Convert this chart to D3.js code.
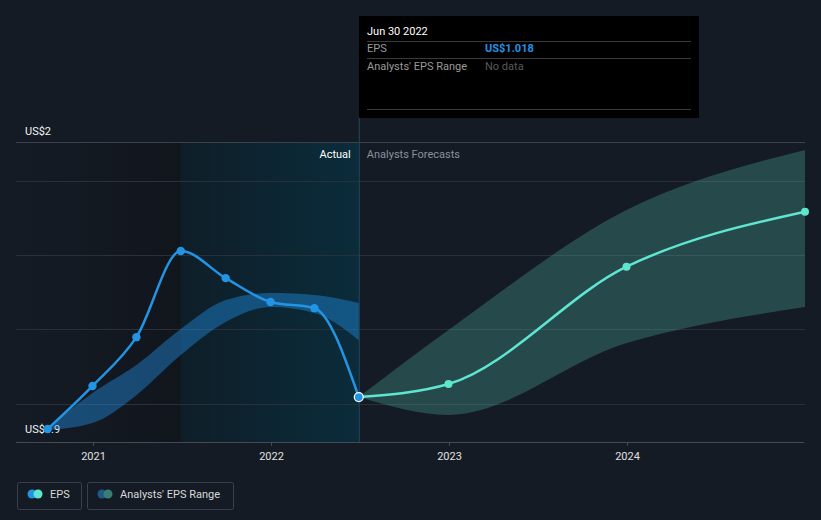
<!DOCTYPE html>
<html><head><meta charset="utf-8">
<script src="https://cdn.jsdelivr.net/npm/d3@7"></script>
<style>
html,body{margin:0;padding:0;background:#151b25;}
svg{display:block;font-family:Roboto,"Noto Sans",sans-serif;}
</style></head>
<body><svg id="c" width="821" height="520"></svg>
<script>
// ---- data ----
const epsDates = ["2020-09-30","2020-12-31","2021-03-31","2021-06-30","2021-09-30","2021-12-31","2022-03-31","2022-06-30"];
const epsValues = [0.9, 1.059, 1.239, 1.557, 1.457, 1.369, 1.346, 1.018];
const pastRangeDates = ["2020-09-30","2020-12-31","2021-03-31","2021-06-30","2021-09-30","2021-12-31","2022-03-31","2022-06-30"];
const pastRangeLow = [0.896, 0.922, 1.025, 1.173, 1.295, 1.350, 1.328, 1.228];
const pastRangeHigh = [0.904, 1.033, 1.136, 1.269, 1.376, 1.402, 1.395, 1.365];
const fcDates = ["2022-06-30","2022-12-31","2023-12-31","2024-12-31"];
const fcValues = [1.018, 1.066, 1.499, 1.702];
const fcLow = [1.018, 0.952, 1.217, 1.350];
const fcHigh = [1.018, 1.265, 1.708, 1.930];
const yTickLabels = ["US$0.9","US$2"];
const yTickValues = [0.9, 2];
const gridValues = [0.992, 1.269, 1.542, 1.815];
const xTickLabels = ["2021","2022","2023","2024"];
const xTickDates = ["2021-01-01","2022-01-01","2023-01-01","2024-01-01"];
const highlightStart = "2021-06-30", nowDate = "2022-06-30";

const P = d3.timeParse("%Y-%m-%d");
const svg = d3.select("#c");
const x = d3.scaleTime().domain([P("2021-01-01"), P("2024-01-01")]).range([93, 627]);
const y = d3.scaleLinear().domain([0.9, 2]).range([429, 131]);
const pLeft = 16, pRight = 805, pTop = 143, pBottom = 442;
const nowX = x(P(nowDate));

const defs = svg.append("defs");
const g1 = defs.append("linearGradient").attr("id","gAct").attr("x1","0").attr("x2","1");
g1.append("stop").attr("offset","0").attr("stop-color","#151b25");
g1.append("stop").attr("offset","1").attr("stop-color","#11161d");
const g2 = defs.append("linearGradient").attr("id","gHi").attr("x1","0").attr("x2","1");
g2.append("stop").attr("offset","0").attr("stop-color","#0e1e28");
g2.append("stop").attr("offset","1").attr("stop-color","#0b2c3b");

// background regions
svg.append("rect").attr("x",pLeft).attr("y",pTop).attr("width",x(P(highlightStart))-pLeft).attr("height",pBottom-pTop).attr("fill","url(#gAct)");
svg.append("rect").attr("x",x(P(highlightStart))).attr("y",pTop).attr("width",nowX-x(P(highlightStart))).attr("height",pBottom-pTop).attr("fill","url(#gHi)");

// gridlines
svg.selectAll(".grid").data(gridValues).join("line")
  .attr("x1",pLeft).attr("x2",pRight).attr("y1",d=>Math.round(y(d))+0.5).attr("y2",d=>Math.round(y(d))+0.5)
  .attr("stroke","#2a303a").attr("stroke-width",1);
svg.append("line").attr("x1",pLeft).attr("x2",pRight).attr("y1",pTop-0.5).attr("y2",pTop-0.5).attr("stroke","#3b414c");

// axis
const xAxis = d3.axisBottom(x).tickValues(xTickDates.map(P)).tickFormat((d,i)=>xTickLabels[i]).tickSize(4).tickPadding(6);
const ax = svg.append("g").attr("transform",`translate(0,${pBottom})`).call(xAxis);
ax.select(".domain").remove();
ax.append("line").attr("x1",pLeft).attr("x2",pRight-1).attr("y1",0.5).attr("y2",0.5).attr("stroke","#454b55");
ax.selectAll(".tick line").attr("stroke","#454b55");
ax.selectAll(".tick text").attr("fill","#e0e0e0").attr("font-size",11).attr("font-family","Roboto,sans-serif");

// vertical now line
svg.append("line").attr("x1",nowX+0.5).attr("x2",nowX+0.5).attr("y1",117).attr("y2",pBottom).attr("stroke","#24495a");

// labels Actual / Forecasts
svg.append("text").attr("x",nowX-8).attr("y",158).attr("text-anchor","end").attr("fill","#ffffff").attr("font-size",11).text("Actual");
svg.append("text").attr("x",nowX+8).attr("y",158).attr("fill","#8a9099").attr("font-size",11).text("Analysts Forecasts");

// y labels
svg.selectAll(".yl").data(yTickValues).join("text")
  .attr("x",25).attr("y",d=>y(d)+4).attr("fill","#f2f2f2").attr("font-size",11).text((d,i)=>yTickLabels[i]);

// bands
const area = d3.area().x(d=>x(d.d)).y0(d=>y(d.l)).y1(d=>y(d.h)).curve(d3.curveMonotoneX);
const pastBand = pastRangeDates.map((d,i)=>({d:P(d),l:pastRangeLow[i],h:pastRangeHigh[i]}));
svg.append("path").datum(pastBand).attr("d",area).attr("fill","#2196f3").attr("fill-opacity",0.4);
const fcBand = fcDates.map((d,i)=>({d:P(d),l:fcLow[i],h:fcHigh[i]}));
svg.append("path").datum(fcBand).attr("d",area).attr("fill","#4fb5a8").attr("fill-opacity",0.3);

// lines
const line = d3.line().x(d=>x(d.d)).y(d=>y(d.v)).curve(d3.curveMonotoneX);
const fc = fcDates.map((d,i)=>({d:P(d),v:fcValues[i]}));
svg.append("path").datum(fc).attr("d",line).attr("fill","none").attr("stroke","#5ee6d0").attr("stroke-width",2.5);
svg.selectAll(".fcp").data(fc.slice(1)).join("circle").attr("cx",d=>x(d.d)).attr("cy",d=>y(d.v)).attr("r",4).attr("fill","#5ee6d0");
const eps = epsDates.map((d,i)=>({d:P(d),v:epsValues[i]}));
svg.append("path").datum(eps).attr("d",line).attr("fill","none").attr("stroke","#2394e4").attr("stroke-width",2.5);
svg.selectAll(".ep").data(eps.slice(0,-1)).join("circle").attr("cx",d=>x(d.d)).attr("cy",d=>y(d.v)).attr("r",4.2).attr("fill","#2394e4");
const last = eps[eps.length-1];
svg.append("circle").attr("cx",x(last.d)).attr("cy",y(last.v)).attr("r",4.5).attr("fill","#2394e4").attr("stroke","#ffffff").attr("stroke-width",1.2);

// tooltip
const tt = svg.append("g");
tt.append("rect").attr("x",359).attr("y",16).attr("width",340).attr("height",102).attr("fill","#000");
tt.append("text").attr("x",367).attr("y",35).attr("fill","#fff").attr("font-size",11).text("Jun 30 2022");
[41,58,109].forEach(v=>tt.append("line").attr("x1",367).attr("x2",691).attr("y1",v+0.5).attr("y2",v+0.5).attr("stroke","#3a3a3a"));
tt.append("text").attr("x",367).attr("y",52).attr("fill","#9a9a9a").attr("font-size",11).text("EPS");
tt.append("text").attr("x",485).attr("y",52).attr("fill","#2394e4").attr("font-size",11).attr("font-weight","bold").text("US$" + epsValues[epsValues.length-1].toFixed(3));
tt.append("text").attr("x",367).attr("y",70).attr("fill","#9a9a9a").attr("font-size",11).text("Analysts' EPS Range");
tt.append("text").attr("x",485).attr("y",70).attr("fill","#5a5a5a").attr("font-size",11).text("No data");

// legend
const lg = svg.append("g");
lg.append("rect").attr("x",17.5).attr("y",482.5).attr("width",64).attr("height",27).attr("rx",2).attr("fill","none").attr("stroke","#3a404b");
lg.append("circle").attr("cx",32).attr("cy",494).attr("r",4.5).attr("fill","#2394e4");
lg.append("circle").attr("cx",38).attr("cy",494).attr("r",4.5).attr("fill","#5ee6d0");
lg.append("text").attr("x",50).attr("y",498).attr("fill","#d8d8d8").attr("font-size",11).text("EPS");
lg.append("rect").attr("x",87.5).attr("y",482.5).attr("width",146).attr("height",27).attr("rx",2).attr("fill","none").attr("stroke","#3a404b");
lg.append("circle").attr("cx",102).attr("cy",494).attr("r",4.5).attr("fill","#1d5a86");
lg.append("circle").attr("cx",108).attr("cy",494).attr("r",4.5).attr("fill","#3a7c76");
lg.append("text").attr("x",120).attr("y",498).attr("fill","#d8d8d8").attr("font-size",11).text("Analysts' EPS Range");
</script></body></html>
